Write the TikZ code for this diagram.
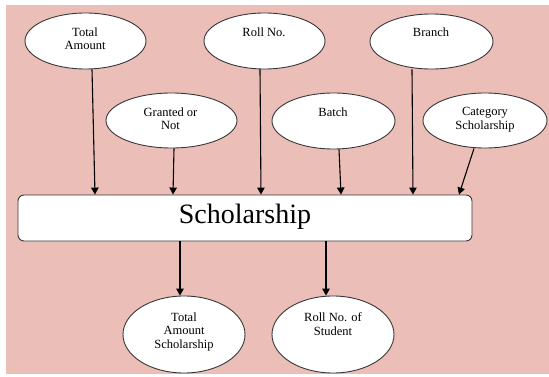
\documentclass[tikz,border=0pt]{standalone}
\usepackage{fontspec}
\setmainfont{Liberation Serif}
\usetikzlibrary{arrows.meta,shapes.geometric}
\definecolor{bgpink}{RGB}{235,190,183}
\definecolor{edgegray}{RGB}{55,55,55}
\begin{document}
\begin{tikzpicture}[x=1pt,y=-1pt,
  attr/.style={ellipse, draw=edgegray, line width=0.9pt, fill=white, inner sep=0pt},
  lbl/.style={anchor=north, align=center, inner sep=0pt, font=\fontsize{12.5}{13.5}\selectfont},
  entity/.style={draw=edgegray, line width=0.9pt, fill=white, rounded corners=6pt, inner sep=0pt},
  link/.style={draw=black, line width=1.1pt, -{Triangle[length=7pt,width=7.5pt]}}]
\useasboundingbox (0,0) rectangle (549,377);
\fill[bgpink] (6,5) rectangle (549,374);

% attribute ellipses, upper row
\node[attr, minimum width=121pt, minimum height=56pt] (tot) at (85.5,41) {};
\node[attr, minimum width=121pt, minimum height=56pt] (roll) at (264.5,41) {};
\node[attr, minimum width=123pt, minimum height=55pt] (branch) at (431.5,41.5) {};
% attribute ellipses, second row
\node[attr, minimum width=131pt, minimum height=55pt] (grant) at (171.5,120.5) {};
\node[attr, minimum width=123pt, minimum height=56pt] (batch) at (333.5,121) {};
\node[attr, minimum width=124pt, minimum height=55pt] (cat) at (485,120.5) {};

% central entity
\node[entity, minimum width=454pt, minimum height=46pt] (sch) at (245,218) {};
\node[anchor=base, inner sep=0pt, font=\fontsize{28}{30}\selectfont] (schtext) at (245,223) {Scholarship};

% output ellipses
\node[attr, minimum width=122pt, minimum height=77pt] (totsch) at (184,334.5) {};
\node[attr, minimum width=122pt, minimum height=77pt] (rollst) at (333,334.5) {};

% labels
\node[lbl] (totl) at (85,27.5) {Total\\Amount};
\node[lbl] (rolll) at (264,27.5) {Roll No.};
\node[lbl] (branchl) at (431,27.5) {Branch};
\node[lbl] (grantl) at (170.5,107.5) {Granted or\\Not};
\node[lbl] (batchl) at (333,107.5) {Batch};
\node[lbl] (catl) at (485,107.5) {Category\\Scholarship};
\node[lbl] (totschl) at (184,312.5) {Total\\Amount\\Scholarship};
\node[lbl] (rollstl) at (333,312.5) {Roll No. of\\Student};

% connectors into the entity
\draw[link] ([xshift=6.5pt]tot.south) -- ([xshift=-150pt]sch.north);
\draw[link] ([xshift=2.5pt]grant.south) -- ([xshift=-72pt]sch.north);
\draw[link] ([xshift=-4.5pt]roll.south) -- ([xshift=16pt]sch.north);
\draw[link] ([xshift=5.5pt]batch.south) -- ([xshift=96pt]sch.north);
\draw[link] ([xshift=-19.5pt]branch.south) -- ([xshift=168pt]sch.north);
\draw[link] ([xshift=-11pt]cat.south) -- ([xshift=214pt]sch.north);

% connectors out of the entity
\draw[link] ([xshift=-65pt]sch.south) -- ([xshift=-4pt]totsch.north);
\draw[link] ([xshift=81pt]sch.south) -- ([xshift=-7pt]rollst.north);
\end{tikzpicture}
\end{document}
